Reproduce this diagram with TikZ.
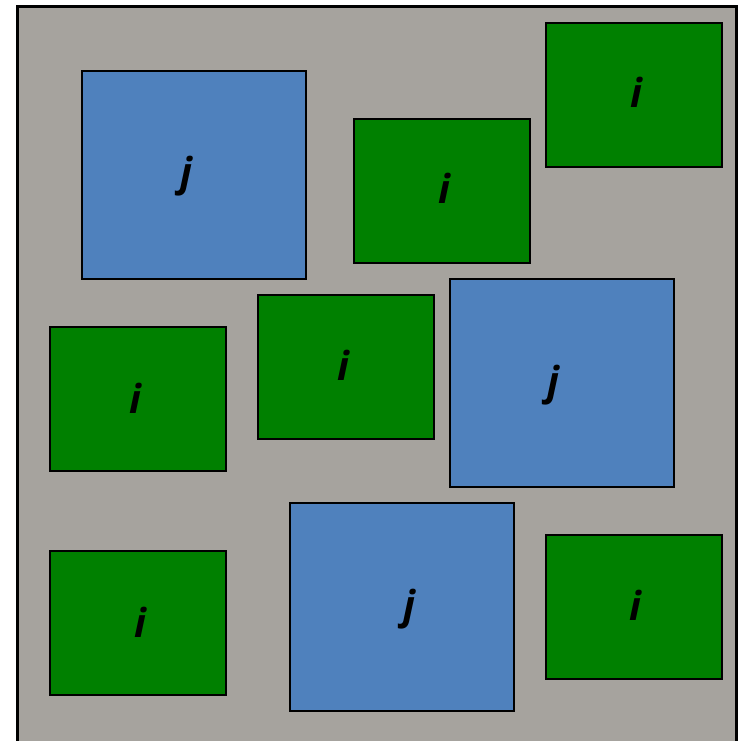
\documentclass[tikz,border=0pt]{standalone}
\usepackage{fontspec}
\newfontfamily\labfont{Open Sans}
\definecolor{bggray}{RGB}{166,163,158}
\definecolor{boxblue}{RGB}{79,129,189}
\definecolor{boxgreen}{RGB}{0,128,0}
\begin{document}
\begin{tikzpicture}[x=0.75pt,y=-0.75pt,
  gbox/.style={draw=black,line width=1.1pt,fill=boxgreen},
  bbox/.style={draw=black,line width=1.1pt,fill=boxblue},
  lab/.style={anchor=base,inner sep=0pt,font=\labfont\bfseries\itshape\fontsize{30}{36}\selectfont}]
\useasboundingbox (0,0) rectangle (738,741);
\draw[fill=bggray,line width=2.3pt] (17.5,6.5) rectangle (736.5,760);
% boxes
\draw[bbox] (82,71) rectangle (306,279) node[lab] (l1) at (186,187) {j};
\draw[gbox] (354,119) rectangle (530,263) node[lab] (l2) at (444,204) {i};
\draw[gbox] (546,23) rectangle (722,167) node[lab] (l3) at (636,108) {i};
\draw[gbox] (50,327) rectangle (226,471) node[lab] (l4) at (135,413) {i};
\draw[gbox] (258,295) rectangle (434,439) node[lab] (l5) at (343,380) {i};
\draw[bbox] (450,279) rectangle (674,487) node[lab] (l6) at (553,395) {j};
\draw[gbox] (50,551) rectangle (226,695) node[lab] (l7) at (140,637) {i};
\draw[bbox] (290,503) rectangle (514,711) node[lab] (l8) at (409,619) {j};
\draw[gbox] (546,535) rectangle (722,679) node[lab] (l9) at (635,620) {i};
\end{tikzpicture}
\end{document}
